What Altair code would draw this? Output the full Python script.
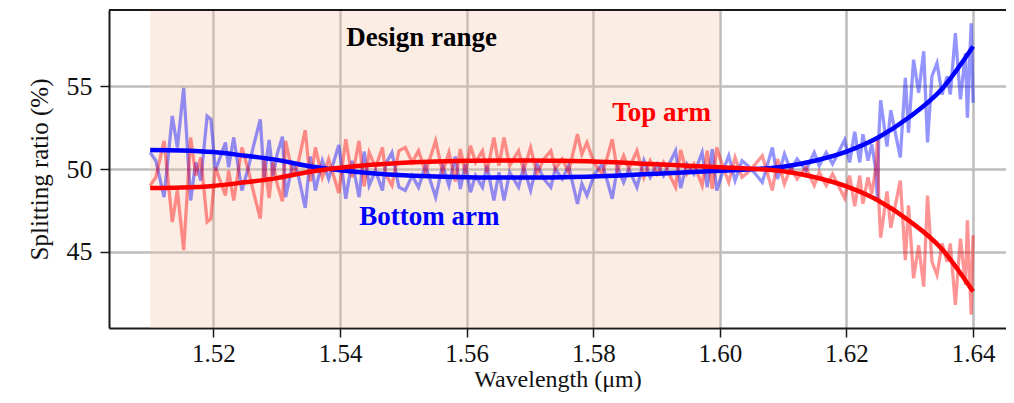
import altair as alt
import pandas as pd

# Measured splitting ratio of the bottom arm (top arm = 100 - bottom)
meas_wl = [
    1.5100, 1.5109, 1.5122, 1.5135, 1.5143, 1.5153, 1.5164, 1.5172, 1.5180, 1.5190,
    1.5196, 1.5203, 1.5219, 1.5224, 1.5232, 1.5245, 1.5256, 1.5264, 1.5274, 1.5280,
    1.5288, 1.5294, 1.5301, 1.5309, 1.5314, 1.5325, 1.5333, 1.5345, 1.5353, 1.5361,
    1.5372, 1.5382, 1.5398, 1.5409, 1.5419, 1.5430, 1.5438, 1.5446, 1.5456, 1.5467,
    1.5472, 1.5482, 1.5493, 1.5503, 1.5514, 1.5524, 1.5535, 1.5551, 1.5562, 1.5572,
    1.5582, 1.5590, 1.5598, 1.5606, 1.5614, 1.5625, 1.5632, 1.5643, 1.5651, 1.5659,
    1.5668, 1.5682, 1.5690, 1.5701, 1.5711, 1.5722, 1.5733, 1.5740, 1.5751, 1.5761,
    1.5775, 1.5782, 1.5790, 1.5801, 1.5814, 1.5822, 1.5830, 1.5838, 1.5848, 1.5856,
    1.5869, 1.5880, 1.5890, 1.5901, 1.5911, 1.5930, 1.5938, 1.5948, 1.5959, 1.5972,
    1.5980, 1.5988, 1.5995, 1.6006, 1.6014, 1.6024, 1.6035, 1.6043, 1.6054, 1.6067,
    1.6083, 1.6091, 1.6102, 1.6112, 1.6122, 1.6136, 1.6149, 1.6157, 1.6168, 1.6178,
    1.6186, 1.6197, 1.6205, 1.6213, 1.6221, 1.6226, 1.6234, 1.6240, 1.6246, 1.6249,
    1.6251, 1.6254, 1.6264, 1.6270, 1.6285, 1.6293, 1.6298, 1.6306, 1.6314, 1.6322,
    1.6328, 1.6335, 1.6343, 1.6351, 1.6359, 1.6364, 1.6372, 1.6380, 1.6388, 1.6391,
    1.6397, 1.6400,
]
meas_bottom = [
    51.0, 50.5, 48.3, 53.2, 51.3, 54.9, 48.1, 50.4, 49.3, 53.2,
    53.0, 49.9, 51.6, 50.1, 51.9, 48.7, 50.2, 51.5, 53.0, 49.5,
    51.75, 49.6, 50.95, 51.95, 48.3, 50.3, 49.8, 47.65, 50.75, 48.7,
    50.5, 49.4, 51.45, 48.2, 50.5, 48.3, 51.05, 49.0, 49.9, 48.7,
    50.3, 51.0, 48.9, 48.7, 49.6, 48.9, 50.2, 48.3, 50.2, 49.0,
    50.75, 48.8, 50.3, 48.6, 49.6, 48.9, 50.2, 48.1, 49.8, 48.1,
    49.8, 48.9, 50.1, 48.7, 50.3, 49.4, 48.9, 50.0, 49.4, 50.2,
    47.9, 49.1, 48.4, 49.6, 50.3, 49.3, 48.2, 50.1, 49.2, 50.0,
    48.9, 50.5, 49.5, 50.3, 49.6, 51.1, 48.85, 50.3, 49.7, 51.0,
    48.9, 51.2, 48.7, 50.0, 50.8, 49.3, 50.5, 50.25, 49.8, 49.2,
    51.3, 49.4, 50.9, 49.9, 50.6, 49.9, 51.0, 50.2, 51.0, 50.3,
    50.9, 51.75, 50.4, 52.25, 50.4, 52.1, 50.5, 51.5, 50.0, 48.1,
    51.95, 54.15, 51.35, 53.55, 50.7, 55.5, 52.2, 56.6, 54.6, 57.1,
    51.6, 55.6, 56.4, 54.5, 55.6, 54.5, 58.2, 54.2, 57.0, 53.1,
    58.8, 54.0,
]

# Smooth fit of the bottom arm
fit_wl = [1.510, 1.515, 1.520, 1.525, 1.530, 1.535, 1.540, 1.545, 1.550, 1.555,
          1.560, 1.565, 1.570, 1.575, 1.580, 1.585, 1.590, 1.595, 1.600, 1.605,
          1.610, 1.615, 1.620, 1.625, 1.630, 1.635, 1.640]
fit_bottom = [51.15, 51.12, 51.02, 50.80, 50.55, 50.18, 49.93, 49.75, 49.62, 49.55,
              49.50, 49.48, 49.48, 49.50, 49.54, 49.62, 49.72, 49.81, 49.90, 49.98,
              50.14, 50.50, 51.05, 51.90, 53.15, 54.80, 57.40]

design_range = [1.51, 1.60]
x_ticks = [1.52, 1.54, 1.56, 1.58, 1.60, 1.62, 1.64]
y_ticks = [45, 50, 55]
x_domain = [1.5035, 1.6452]
y_domain = [40.4, 59.6]

labels = ["Design range", "Top arm", "Bottom arm"]
label_wl = [1.5529, 1.5908, 1.5541]
label_val = [57.9, 53.37, 47.1]
label_color = ["#000000", "#ff0000", "#0000ff"]

meas = pd.DataFrame({"wl": meas_wl, "bottom": meas_bottom})
meas["top"] = 100 - meas["bottom"]
meas["i"] = range(len(meas))
fit = pd.DataFrame({"wl": fit_wl, "bottom": fit_bottom})
fit["top"] = 100 - fit["bottom"]
span = pd.DataFrame({"a": [design_range[0]], "b": [design_range[1]]})
frame = pd.DataFrame({"a": [x_domain[0]], "b": [x_domain[1]]})
ann = pd.DataFrame({"t": labels, "x": label_wl, "y": label_val, "c": label_color})

FONT = "Liberation Serif"

xs = alt.Scale(domain=x_domain, nice=False, zero=False)
ys = alt.Scale(domain=y_domain, nice=False, zero=False)

xax = alt.Axis(values=x_ticks, format=".2f", title="Wavelength (μm)",
               grid=True, labelPadding=4, titlePadding=1, titleFontSize=24,
               labelFontSize=25)
yax = alt.Axis(values=y_ticks, format="d", title="Splitting ratio (%)",
               grid=True, labelPadding=8, titlePadding=14, labelFontSize=26)

base_x = alt.X("wl:Q", scale=xs, axis=xax)

shade = alt.Chart(span).mark_rect(color="#f5c3a5", opacity=0.3).encode(
    x=alt.X("a:Q", scale=xs, axis=xax),
    x2="b:Q",
    y=alt.value(0),
    y2=alt.value(318),
)

top_spine = alt.Chart(frame).mark_rule(color="#1a1a1a", strokeWidth=2).encode(
    x=alt.X("a:Q", scale=xs, axis=xax),
    x2="b:Q",
    y=alt.value(0),
)

noisy_b = alt.Chart(meas).mark_line(color="#0000ff", strokeOpacity=0.42, strokeWidth=3.3).encode(
    x=base_x, y=alt.Y("bottom:Q", scale=ys, axis=yax), order="i:Q")
noisy_t = alt.Chart(meas).mark_line(color="#ff0000", strokeOpacity=0.42, strokeWidth=3.3).encode(
    x=base_x, y=alt.Y("top:Q", scale=ys, axis=yax), order="i:Q")
fit_b = alt.Chart(fit).mark_line(color="#0000ff", strokeWidth=4.5, interpolate="monotone").encode(
    x=base_x, y=alt.Y("bottom:Q", scale=ys, axis=yax))
fit_t = alt.Chart(fit).mark_line(color="#ff0000", strokeWidth=4.5, interpolate="monotone").encode(
    x=base_x, y=alt.Y("top:Q", scale=ys, axis=yax))

text = alt.Chart(ann).mark_text(font=FONT, fontWeight="bold", fontSize=27,
                                align="center", baseline="middle").encode(
    x=alt.X("x:Q", scale=xs, axis=xax),
    y=alt.Y("y:Q", scale=ys, axis=yax),
    text="t:N",
    color=alt.Color("c:N", scale=None),
)

chart = alt.layer(shade, noisy_b, noisy_t, fit_b, fit_t, text, top_spine).properties(
    width=897, height=318,
    autosize=alt.AutoSizeParams(type="none"),
    padding={"left": 101, "top": 2, "right": 0, "bottom": 67},
).configure_view(
    strokeWidth=0
).configure_axis(
    labelFont=FONT, titleFont=FONT, labelFontSize=26, titleFontSize=25,
    labelColor="#111", titleColor="#111", titleFontWeight="normal",
    gridColor="#bdbdbd", gridWidth=2.5, gridOpacity=1,
    domainColor="#1a1a1a", domainWidth=2,
    tickColor="#1a1a1a", tickWidth=1.5, tickSize=9,
)

chart.save("out.html", embed_options={"renderer": "svg", "actions": False})
